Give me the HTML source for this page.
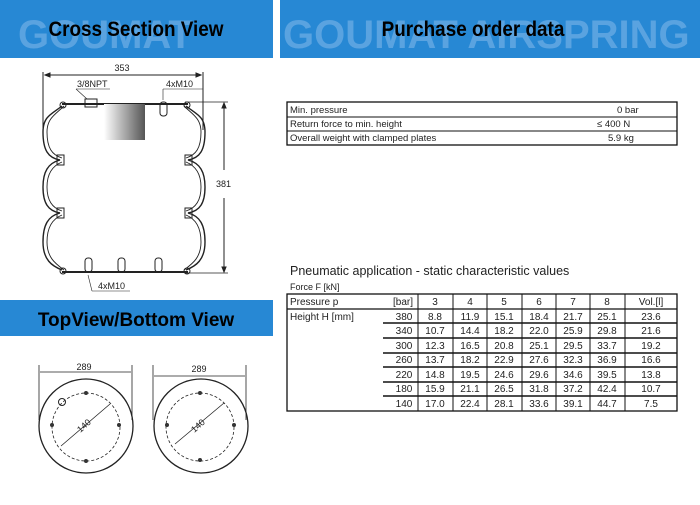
<!DOCTYPE html>
<html><head><style>
body{margin:0;width:700px;height:500px;background:#fff;overflow:hidden;font-family:"Liberation Sans",Arial,sans-serif}
</style></head><body>
<svg width="700" height="500" viewBox="0 0 700 500" xmlns="http://www.w3.org/2000/svg" font-family="Liberation Sans, Arial, sans-serif">
<rect x="0" y="0" width="273" height="58" fill="#2788d4"/>
<rect x="280" y="0" width="420" height="58" fill="#2788d4"/>
<rect x="0" y="300" width="273" height="36" fill="#2788d4"/>
<text x="18" y="48" font-size="40" font-weight="bold" fill="#5aa3e0">GOUMAT</text>
<text x="283" y="48" font-size="40" font-weight="bold" fill="#5aa3e0">GOUMAT AIRSPRING</text>
<text x="136" y="36" font-size="21" font-weight="bold" text-anchor="middle" transform="translate(136 0) scale(0.9 1) translate(-136 0)">Cross Section View</text>
<text x="473" y="36" font-size="21" font-weight="bold" text-anchor="middle" transform="translate(473 0) scale(0.9 1) translate(-473 0)">Purchase order data</text>
<text x="136" y="326" font-size="19" font-weight="bold" text-anchor="middle">TopView/Bottom View</text>

<!-- cross section -->
<g stroke="#222" fill="none" stroke-width="1">
<line x1="43" y1="72" x2="43" y2="130"/><line x1="203" y1="72" x2="203" y2="130"/>
<line x1="45" y1="75" x2="201" y2="75"/>
<path d="M45 75l5-2v4z M201 75l-5-2v4z" fill="#222"/>
<line x1="185" y1="102" x2="228" y2="102" stroke-width="0.7"/><line x1="185" y1="273" x2="228" y2="273" stroke-width="0.7"/>
<line x1="224" y1="106" x2="224" y2="170"/><line x1="224" y1="198" x2="224" y2="269"/>
<path d="M224 103l-2 5h4z M224 272l-2-5h4z" fill="#222"/>
<path d="M62 104 H188" stroke-width="2"/>
<path d="M62 272 H188" stroke-width="2"/>
<path d="M62 106 C52 114,43 116,43 132 C43 150,48 158,60 160 C48 163,43 172,43 187 C43 203,48 211,60 213 C48 216,43 225,43 242 C43 260,52 266,62 270" stroke-width="1.4"/>
<path d="M64 106 C56 114,47 118,47 132 C47 148,52 155,62 158 M62 162 C52 166,47 174,47 187 C47 200,52 208,62 211 M62 215 C52 219,47 228,47 242 C47 258,56 264,64 270" stroke-width="0.9"/>
<path d="M186 106 C196 114,205 116,205 132 C205 150,200 158,188 160 C200 163,205 172,205 187 C205 203,200 211,188 213 C200 216,205 225,205 242 C205 260,196 266,186 270" stroke-width="1.4"/>
<path d="M184 106 C192 114,201 118,201 132 C201 148,196 155,186 158 M186 162 C196 166,201 174,201 187 C201 200,196 208,186 211 M186 215 C196 219,201 228,201 242 C201 258,192 264,184 270" stroke-width="0.9"/>
<circle cx="63" cy="105" r="3"/><circle cx="187" cy="105" r="3"/><circle cx="63" cy="271" r="3"/><circle cx="187" cy="271" r="3"/>
<rect x="85" y="99" width="12" height="8"/><rect x="160" y="102" width="7" height="14" rx="3"/>
<rect x="85" y="258" width="7" height="14" rx="3"/><rect x="118" y="258" width="7" height="14" rx="3"/><rect x="155" y="258" width="7" height="14" rx="3"/>
<rect x="57" y="155" width="7" height="10"/><rect x="185" y="155" width="7" height="10"/><rect x="57" y="208" width="7" height="10"/><rect x="185" y="208" width="7" height="10"/>
<line x1="76" y1="89" x2="110" y2="89" stroke-width="0.6"/><line x1="76" y1="89" x2="87" y2="99" stroke-width="0.6"/>
<line x1="163" y1="89" x2="203" y2="89" stroke-width="0.6"/><line x1="163" y1="89" x2="163" y2="100" stroke-width="0.6"/>
<line x1="92" y1="291" x2="130" y2="291" stroke-width="0.6"/><line x1="92" y1="291" x2="88" y2="275" stroke-width="0.6"/>
</g>
<defs><linearGradient id="g" x1="0" x2="1"><stop offset="0" stop-color="#fff"/><stop offset="1" stop-color="#555"/></linearGradient></defs>
<rect x="104" y="104" width="41" height="36" fill="url(#g)"/>
<g font-size="9" fill="#222">
<text x="122" y="71" text-anchor="middle">353</text>
<text x="77" y="87">3/8NPT</text>
<text x="166" y="87">4xM10</text>
<text x="216" y="187">381</text>
<text x="98" y="289">4xM10</text>
</g>

<!-- top views -->
<g stroke="#222" fill="none">
<circle cx="86" cy="426" r="47" stroke-width="1.3"/>
<circle cx="86" cy="427" r="34" stroke-dasharray="3 2" stroke-width="0.8"/>
<line x1="39" y1="365" x2="39" y2="420" stroke-width="0.8"/><line x1="132" y1="365" x2="132" y2="420" stroke-width="0.8"/>
<line x1="40" y1="372" x2="131" y2="372" stroke-width="0.8"/>
<line x1="61" y1="446" x2="110" y2="404" stroke-width="0.8"/>
<circle cx="201" cy="426" r="47" stroke-width="1.3"/>
<circle cx="200" cy="427" r="34" stroke-dasharray="3 2" stroke-width="0.8"/>
<line x1="153" y1="365" x2="153" y2="420" stroke-width="0.8"/><line x1="246" y1="365" x2="246" y2="420" stroke-width="0.8"/>
<line x1="154" y1="376" x2="245" y2="376" stroke-width="0.8"/>
<line x1="175" y1="444" x2="224" y2="403" stroke-width="0.8"/>
<circle cx="62" cy="402" r="3.5"/>
</g>
<g fill="#333">
<circle cx="86" cy="393" r="2"/><circle cx="86" cy="461" r="2"/><circle cx="52" cy="425" r="2"/><circle cx="119" cy="425" r="2"/>
<circle cx="200" cy="393" r="2"/><circle cx="200" cy="460" r="2"/><circle cx="167" cy="425" r="2"/><circle cx="234" cy="425" r="2"/>
</g>
<g font-size="9" fill="#222">
<text x="84" y="370" text-anchor="middle">289</text>
<text x="199" y="372" text-anchor="middle">289</text>
<text x="86" y="428" transform="rotate(-42 86 428)" text-anchor="middle">140</text>
<text x="200" y="428" transform="rotate(-42 200 428)" text-anchor="middle">140</text>
</g>

<!-- upper table -->
<g stroke="#111" fill="none">
<rect x="287" y="102" width="390" height="43" stroke-width="1.3"/>
<line x1="287" y1="117" x2="677" y2="117"/><line x1="287" y1="131" x2="677" y2="131"/>
</g>
<g font-size="9.5" fill="#222">
<text x="290" y="113">Min. pressure</text><text x="617" y="113">0 bar</text>
<text x="290" y="127">Return force to min. height</text><text x="597" y="127">≤ 400 N</text>
<text x="290" y="141">Overall weight with clamped plates</text><text x="608" y="141">5.9 kg</text>
</g>

<!-- lower table -->
<text x="290" y="275" font-size="12.5" fill="#222">Pneumatic application - static characteristic values</text>
<text x="290" y="290" font-size="9" fill="#222">Force F [kN]</text>
<g stroke="#111" fill="none">
<rect x="287" y="294" width="390" height="117" stroke-width="1.3"/>
<line x1="287" y1="309" x2="677" y2="309" stroke-width="1.3"/>
<g stroke-width="1.5"><line x1="383" y1="323" x2="677" y2="323"/><line x1="383" y1="338" x2="677" y2="338"/><line x1="383" y1="353" x2="677" y2="353"/><line x1="383" y1="367" x2="677" y2="367"/><line x1="383" y1="382" x2="677" y2="382"/><line x1="383" y1="396" x2="677" y2="396"/></g>
<line x1="418" y1="294" x2="418" y2="411"/><line x1="453" y1="294" x2="453" y2="411"/><line x1="487" y1="294" x2="487" y2="411"/><line x1="522" y1="294" x2="522" y2="411"/><line x1="556" y1="294" x2="556" y2="411"/><line x1="590" y1="294" x2="590" y2="411"/><line x1="625" y1="294" x2="625" y2="411"/>
</g>
<g font-size="10" fill="#222" text-anchor="middle">
<text x="290" y="305" text-anchor="start">Pressure p</text><text x="403" y="305">[bar]</text>
<text x="435" y="305">3</text><text x="470" y="305">4</text><text x="504" y="305">5</text><text x="539" y="305">6</text><text x="573" y="305">7</text><text x="607" y="305">8</text><text x="651" y="305">Vol.[l]</text>
<text x="290" y="320" text-anchor="start">Height H [mm]</text>
<text x="404" y="320">380</text><text x="435" y="320">8.8</text><text x="470" y="320">11.9</text><text x="504" y="320">15.1</text><text x="539" y="320">18.4</text><text x="573" y="320">21.7</text><text x="607" y="320">25.1</text><text x="651" y="320">23.6</text>
<text x="404" y="334">340</text><text x="435" y="334">10.7</text><text x="470" y="334">14.4</text><text x="504" y="334">18.2</text><text x="539" y="334">22.0</text><text x="573" y="334">25.9</text><text x="607" y="334">29.8</text><text x="651" y="334">21.6</text>
<text x="404" y="349">300</text><text x="435" y="349">12.3</text><text x="470" y="349">16.5</text><text x="504" y="349">20.8</text><text x="539" y="349">25.1</text><text x="573" y="349">29.5</text><text x="607" y="349">33.7</text><text x="651" y="349">19.2</text>
<text x="404" y="363">260</text><text x="435" y="363">13.7</text><text x="470" y="363">18.2</text><text x="504" y="363">22.9</text><text x="539" y="363">27.6</text><text x="573" y="363">32.3</text><text x="607" y="363">36.9</text><text x="651" y="363">16.6</text>
<text x="404" y="378">220</text><text x="435" y="378">14.8</text><text x="470" y="378">19.5</text><text x="504" y="378">24.6</text><text x="539" y="378">29.6</text><text x="573" y="378">34.6</text><text x="607" y="378">39.5</text><text x="651" y="378">13.8</text>
<text x="404" y="392">180</text><text x="435" y="392">15.9</text><text x="470" y="392">21.1</text><text x="504" y="392">26.5</text><text x="539" y="392">31.8</text><text x="573" y="392">37.2</text><text x="607" y="392">42.4</text><text x="651" y="392">10.7</text>
<text x="404" y="407">140</text><text x="435" y="407">17.0</text><text x="470" y="407">22.4</text><text x="504" y="407">28.1</text><text x="539" y="407">33.6</text><text x="573" y="407">39.1</text><text x="607" y="407">44.7</text><text x="651" y="407">7.5</text>
</g>
</svg>
</body></html>
